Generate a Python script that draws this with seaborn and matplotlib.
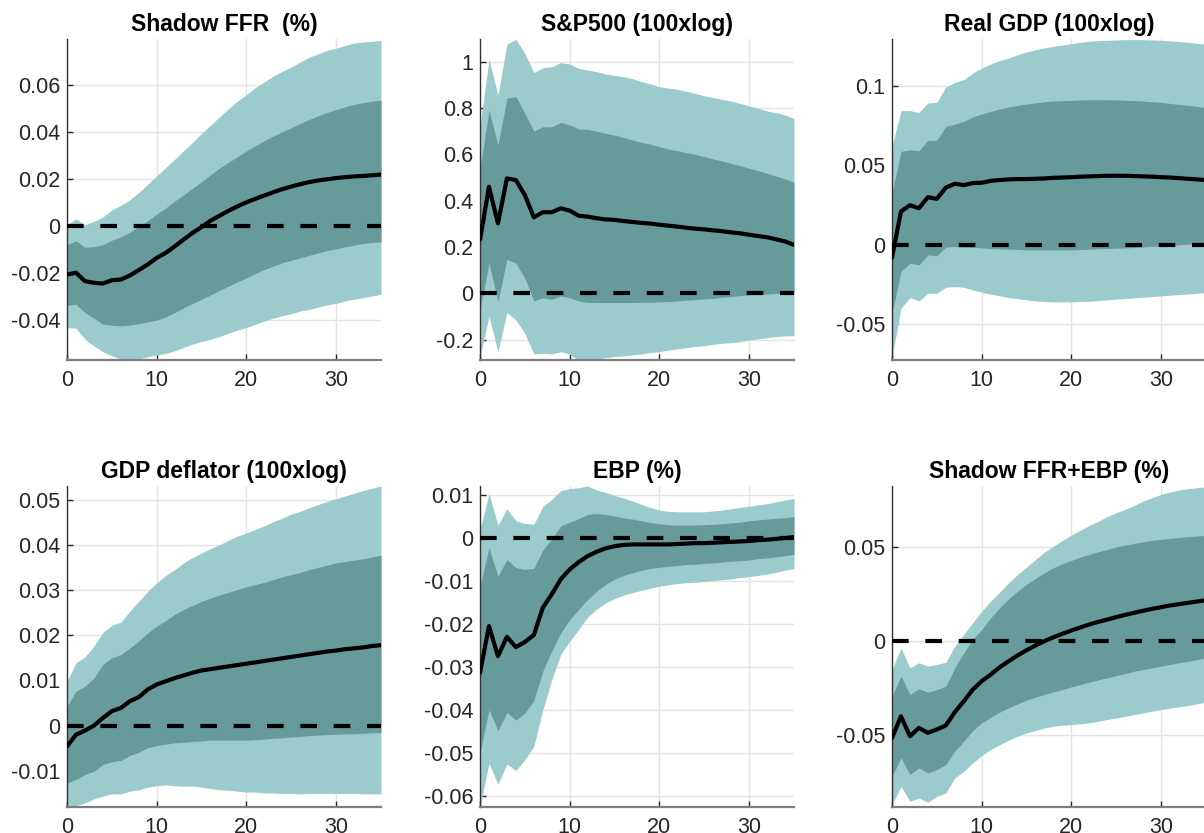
import numpy as np
import pandas as pd
import matplotlib
matplotlib.use("Agg")
import matplotlib.pyplot as plt
from matplotlib.ticker import FixedLocator, FuncFormatter
import seaborn as sns

# ---------------- data ----------------
horizon = list(range(36))

titles = ["Shadow FFR  (%)", "S&P500 (100xlog)", "Real GDP (100xlog)",
          "GDP deflator (100xlog)", "EBP (%)", "Shadow FFR+EBP (%)"]

# Shadow FFR
ffr_med = [-0.0205, -0.0197, -0.0233, -0.024, -0.0243, -0.0229, -0.0226, -0.0209, -0.0186, -0.0162,
           -0.0134, -0.0113, -0.0085, -0.0056, -0.0028, -0.0003, 0.0024, 0.0045, 0.0066, 0.0085,
           0.0102, 0.0117, 0.0131, 0.0145, 0.0158, 0.0169, 0.0179, 0.0188, 0.0195, 0.0200,
           0.0205, 0.0209, 0.0212, 0.0214, 0.0217, 0.0220]
ffr_hi68 = [-0.0078, -0.0062, -0.0089, -0.0087, -0.0078, -0.0059, -0.0045, -0.0025, 0.0, 0.0025,
            0.0052, 0.0078, 0.0107, 0.0134, 0.0162, 0.019, 0.0219, 0.0247, 0.0272, 0.0296,
            0.032, 0.0343, 0.0364, 0.0384, 0.0402, 0.0419, 0.0437, 0.0454, 0.047, 0.0484,
            0.0496, 0.0508, 0.0518, 0.0525, 0.0532, 0.0536]
ffr_lo68 = [-0.0336, -0.0331, -0.0367, -0.039, -0.0416, -0.042, -0.0423, -0.042, -0.0413, -0.0406,
            -0.0399, -0.0385, -0.0367, -0.0346, -0.0327, -0.031, -0.0292, -0.0272, -0.0254, -0.0236,
            -0.0219, -0.02, -0.0183, -0.0169, -0.0155, -0.0144, -0.0134, -0.0123, -0.0113, -0.0103,
            -0.0096, -0.0087, -0.008, -0.0073, -0.0069, -0.0066]
ffr_hi90 = [0.0007, 0.0032, 0.0007, 0.0021, 0.004, 0.007, 0.0089, 0.0113, 0.0144, 0.0179,
            0.0214, 0.025, 0.0285, 0.0322, 0.0357, 0.0395, 0.043, 0.0465, 0.05, 0.0532,
            0.056, 0.059, 0.0614, 0.0638, 0.0659, 0.0677, 0.0698, 0.0719, 0.0733, 0.0748,
            0.0757, 0.0769, 0.0779, 0.0783, 0.0786, 0.079]
ffr_lo90 = [-0.043, -0.0433, -0.048, -0.0508, -0.0533, -0.055, -0.0564, -0.0568, -0.0564, -0.0554,
            -0.0547, -0.054, -0.0529, -0.0515, -0.05, -0.049, -0.048, -0.0468, -0.0454, -0.0441,
            -0.043, -0.0416, -0.0402, -0.039, -0.038, -0.0371, -0.036, -0.0353, -0.0343, -0.0334,
            -0.0327, -0.0317, -0.031, -0.0303, -0.0296, -0.0289]

# S&P500
sp_med = [0.23, 0.46, 0.302, 0.496, 0.489, 0.424, 0.328, 0.35, 0.35, 0.367,
          0.357, 0.335, 0.331, 0.324, 0.319, 0.317, 0.312, 0.308, 0.304, 0.301,
          0.296, 0.292, 0.288, 0.283, 0.279, 0.276, 0.272, 0.268, 0.263, 0.259,
          0.253, 0.247, 0.242, 0.233, 0.224, 0.209]
sp_hi68 = [0.54, 0.791, 0.64, 0.842, 0.849, 0.777, 0.70, 0.719, 0.719, 0.738,
           0.727, 0.709, 0.708, 0.70, 0.691, 0.683, 0.673, 0.662, 0.652, 0.643,
           0.633, 0.623, 0.616, 0.607, 0.60, 0.59, 0.58, 0.571, 0.561, 0.551,
           0.54, 0.53, 0.518, 0.506, 0.494, 0.479]
sp_lo68 = [-0.072, 0.13, -0.036, 0.147, 0.13, 0.065, -0.033, -0.019, -0.026, -0.012,
           -0.019, -0.033, -0.039, -0.04, -0.04, -0.04, -0.04, -0.04, -0.039, -0.039,
           -0.037, -0.036, -0.033, -0.03, -0.027, -0.024, -0.022, -0.017, -0.014, -0.01,
           -0.007, -0.004, -0.003, -0.001, 0.0, 0.0]
sp_hi90 = [0.719, 1.01, 0.856, 1.076, 1.096, 1.036, 0.953, 0.974, 0.978, 0.996,
           0.99, 0.971, 0.964, 0.957, 0.947, 0.941, 0.935, 0.927, 0.914, 0.904,
           0.892, 0.886, 0.881, 0.872, 0.863, 0.853, 0.845, 0.837, 0.83, 0.82,
           0.809, 0.799, 0.787, 0.78, 0.77, 0.755]
sp_lo90 = [-0.273, -0.10, -0.252, -0.083, -0.115, -0.173, -0.262, -0.259, -0.262, -0.252,
           -0.263, -0.291, -0.288, -0.283, -0.278, -0.273, -0.271, -0.266, -0.262, -0.256,
           -0.252, -0.245, -0.24, -0.235, -0.23, -0.226, -0.22, -0.216, -0.213, -0.209,
           -0.201, -0.197, -0.191, -0.187, -0.184, -0.183]

# Real GDP
gdp_med = [-0.008, 0.021, 0.025, 0.023, 0.030, 0.029, 0.036, 0.0385, 0.0376, 0.0389,
           0.0391, 0.0403, 0.0408, 0.0412, 0.0414, 0.0414, 0.0416, 0.0418, 0.0422, 0.0424,
           0.0426, 0.0429, 0.0431, 0.0433, 0.0435, 0.0435, 0.0435, 0.0433, 0.0431, 0.0429,
           0.0426, 0.0424, 0.042, 0.0416, 0.0412, 0.0408]
gdp_hi68 = [0.0326, 0.0588, 0.0599, 0.0592, 0.0658, 0.0658, 0.0746, 0.076, 0.0777, 0.0805,
            0.0824, 0.084, 0.0855, 0.0868, 0.0878, 0.0887, 0.0893, 0.0901, 0.0905, 0.0908,
            0.091, 0.0912, 0.0914, 0.0914, 0.0914, 0.0912, 0.091, 0.0908, 0.0905, 0.0901,
            0.0897, 0.089, 0.0884, 0.0878, 0.0872, 0.0863]
gdp_lo68 = [-0.043, -0.0168, -0.0116, -0.0126, -0.0063, -0.0069, -0.0015, -0.001, -0.0015, -0.0015,
            -0.0019, -0.0023, -0.0025, -0.0027, -0.0029, -0.0032, -0.0032, -0.0032, -0.0032, -0.0032,
            -0.0032, -0.0029, -0.0027, -0.0025, -0.0023, -0.0021, -0.0019, -0.0017, -0.0013, -0.001,
            -0.0006, -0.0004, 0.0, 0.0004, 0.0008, 0.0013]
gdp_hi90 = [0.062, 0.0845, 0.0845, 0.0834, 0.0893, 0.0897, 0.0994, 0.1023, 0.104, 0.1082,
            0.1113, 0.1139, 0.116, 0.1176, 0.1197, 0.1214, 0.1229, 0.124, 0.125, 0.1258,
            0.1267, 0.1275, 0.1282, 0.1286, 0.1288, 0.129, 0.1292, 0.1292, 0.1292, 0.129,
            0.1288, 0.1284, 0.128, 0.1275, 0.1269, 0.1263]
gdp_lo90 = [-0.0704, -0.040, -0.0332, -0.0353, -0.0305, -0.0305, -0.0267, -0.0263, -0.0267, -0.0284,
            -0.0298, -0.0311, -0.0321, -0.0332, -0.034, -0.0347, -0.0353, -0.0357, -0.0359, -0.0359,
            -0.0359, -0.0357, -0.0355, -0.0351, -0.0347, -0.0342, -0.0338, -0.0334, -0.033, -0.0326,
            -0.0321, -0.0317, -0.0313, -0.0309, -0.0305, -0.030]

# GDP deflator
def_med = [-0.0046, -0.002, -0.0011, 0.0, 0.0017, 0.0032, 0.0039, 0.0054, 0.0063, 0.008,
           0.0091, 0.0098, 0.0105, 0.0111, 0.0117, 0.0122, 0.0125, 0.0128, 0.0131, 0.0134,
           0.0137, 0.014, 0.0143, 0.0146, 0.0149, 0.0152, 0.0155, 0.0158, 0.0161, 0.0164,
           0.0166, 0.0169, 0.0171, 0.0173, 0.0176, 0.0178]
def_hi68 = [0.0043, 0.0076, 0.0087, 0.0105, 0.0135, 0.015, 0.0157, 0.0172, 0.0187, 0.0205,
            0.022, 0.0232, 0.0246, 0.0257, 0.0266, 0.0275, 0.0282, 0.0289, 0.0295, 0.0301,
            0.0307, 0.0312, 0.0317, 0.0323, 0.0329, 0.0334, 0.0339, 0.0345, 0.035, 0.0355,
            0.036, 0.0363, 0.0366, 0.0369, 0.0373, 0.0377]
def_lo68 = [-0.0127, -0.0119, -0.0108, -0.0101, -0.0086, -0.008, -0.0077, -0.0066, -0.0059, -0.0049,
            -0.0044, -0.0041, -0.0038, -0.0037, -0.0035, -0.0034, -0.0032, -0.0032, -0.0032, -0.0032,
            -0.0032, -0.0031, -0.003, -0.0028, -0.0027, -0.0025, -0.0024, -0.0022, -0.0021, -0.002,
            -0.0019, -0.0018, -0.0018, -0.0017, -0.0016, -0.0015]
def_hi90 = [0.0098, 0.0139, 0.0152, 0.0176, 0.0206, 0.0222, 0.0229, 0.0253, 0.0275, 0.0297,
            0.0316, 0.0332, 0.0345, 0.036, 0.0372, 0.0382, 0.0392, 0.040, 0.041, 0.0419,
            0.0426, 0.0434, 0.0442, 0.0451, 0.0459, 0.0468, 0.0474, 0.0482, 0.0489, 0.0496,
            0.0502, 0.0508, 0.0514, 0.052, 0.0525, 0.053]
def_lo90 = [-0.0182, -0.0177, -0.0171, -0.0162, -0.0156, -0.0151, -0.0151, -0.0145, -0.0142, -0.0136,
            -0.0133, -0.0131, -0.0133, -0.0134, -0.0134, -0.0136, -0.0139, -0.0142, -0.0143, -0.0145,
            -0.0147, -0.0147, -0.0149, -0.0149, -0.015, -0.015, -0.0151, -0.015, -0.015, -0.015,
            -0.015, -0.015, -0.015, -0.0151, -0.0151, -0.0151]

# EBP
ebp_med = [-0.0314, -0.0205, -0.0275, -0.023, -0.0254, -0.0242, -0.0226, -0.0162, -0.0131, -0.0096,
           -0.0073, -0.0056, -0.0042, -0.0032, -0.0024, -0.0019, -0.0016, -0.0015, -0.0015, -0.0015,
           -0.0015, -0.0015, -0.0014, -0.0013, -0.0012, -0.0012, -0.0011, -0.001, -0.0009, -0.0008,
           -0.0007, -0.0005, -0.0004, -0.0002, 0.0, 0.0002]
ebp_hi68 = [-0.0112, -0.0023, -0.0089, -0.005, -0.0069, -0.0073, -0.0071, -0.0028, -0.0002, 0.0028,
            0.0037, 0.0045, 0.0055, 0.0057, 0.0055, 0.0051, 0.0047, 0.0044, 0.004, 0.0036,
            0.0033, 0.0031, 0.003, 0.003, 0.003, 0.0031, 0.0032, 0.0033, 0.0035, 0.0037,
            0.004, 0.0042, 0.0044, 0.0046, 0.0047, 0.005]
ebp_lo68 = [-0.050, -0.040, -0.0448, -0.0406, -0.0424, -0.0407, -0.0378, -0.031, -0.0263, -0.0221,
            -0.019, -0.0166, -0.0143, -0.0124, -0.0108, -0.0096, -0.0087, -0.0081, -0.0075, -0.0071,
            -0.0068, -0.0066, -0.0064, -0.0062, -0.0061, -0.0059, -0.0058, -0.0056, -0.0054, -0.0053,
            -0.0051, -0.0048, -0.0046, -0.0044, -0.0041, -0.0038]
ebp_hi90 = [0.002, 0.0103, 0.003, 0.0068, 0.004, 0.0034, 0.0032, 0.0073, 0.009, 0.011,
            0.0115, 0.0117, 0.0121, 0.0112, 0.0106, 0.0099, 0.0093, 0.0086, 0.0078, 0.0071,
            0.0065, 0.0062, 0.0061, 0.0061, 0.0061, 0.0061, 0.0063, 0.0065, 0.0068, 0.0071,
            0.0074, 0.0077, 0.008, 0.0084, 0.0088, 0.0092]
ebp_lo90 = [-0.0625, -0.0524, -0.0573, -0.0526, -0.0541, -0.0516, -0.0485, -0.040, -0.033, -0.0271,
            -0.024, -0.0213, -0.0184, -0.0166, -0.0151, -0.0141, -0.0133, -0.0127, -0.0122, -0.0117,
            -0.0112, -0.0109, -0.0106, -0.0104, -0.0103, -0.0101, -0.0099, -0.0097, -0.0095, -0.0092,
            -0.009, -0.0087, -0.0084, -0.008, -0.0075, -0.0071]

# Shadow FFR + EBP
sum_med = [-0.0515, -0.040, -0.0506, -0.0462, -0.0488, -0.047, -0.0449, -0.0378, -0.032, -0.0258,
           -0.0213, -0.0178, -0.0139, -0.0107, -0.0076, -0.0048, -0.0023, 0.0, 0.0021, 0.0039,
           0.0057, 0.0073, 0.0089, 0.0103, 0.0115, 0.0128, 0.014, 0.0151, 0.0162, 0.0172,
           0.0181, 0.019, 0.0197, 0.0204, 0.0211, 0.0218]
sum_hi68 = [-0.0293, -0.0187, -0.0284, -0.0254, -0.0272, -0.0258, -0.024, -0.0142, -0.0062, 0.0009,
            0.0062, 0.0124, 0.0178, 0.0226, 0.0266, 0.0302, 0.0334, 0.0364, 0.0391, 0.0412,
            0.043, 0.0448, 0.0462, 0.0476, 0.0488, 0.0501, 0.0512, 0.052, 0.0529, 0.0536,
            0.0542, 0.0547, 0.0552, 0.0556, 0.056, 0.0563]
sum_lo68 = [-0.0719, -0.0622, -0.071, -0.0675, -0.0702, -0.0684, -0.0657, -0.0586, -0.0533, -0.0476,
            -0.0435, -0.0405, -0.0378, -0.0355, -0.0334, -0.0314, -0.0298, -0.0284, -0.027, -0.0258,
            -0.0243, -0.0231, -0.0218, -0.0206, -0.0195, -0.0183, -0.0172, -0.016, -0.0151, -0.0142,
            -0.0133, -0.0124, -0.0115, -0.0107, -0.0098, -0.0089]
sum_hi90 = [-0.0151, -0.0036, -0.0142, -0.0115, -0.0133, -0.0124, -0.0112, -0.0027, 0.0036, 0.0098,
            0.016, 0.0213, 0.0261, 0.0311, 0.0355, 0.0394, 0.0435, 0.0474, 0.0506, 0.0536,
            0.0565, 0.0591, 0.0616, 0.0639, 0.0663, 0.0684, 0.0702, 0.0723, 0.0746, 0.0764,
            0.0782, 0.0794, 0.0805, 0.0812, 0.0817, 0.0822]
sum_lo90 = [-0.087, -0.0773, -0.0853, -0.0835, -0.0858, -0.0826, -0.0808, -0.0728, -0.0693, -0.0648,
            -0.0609, -0.0577, -0.0551, -0.0528, -0.0506, -0.0488, -0.0476, -0.0462, -0.0453, -0.0448,
            -0.0444, -0.044, -0.0435, -0.0426, -0.0417, -0.0409, -0.04, -0.0391, -0.0382, -0.0373,
            -0.0364, -0.0357, -0.035, -0.0343, -0.0334, -0.0325]

y_limits = [(-0.0568, 0.0796), (-0.288, 1.098), (-0.0725, 0.1296),
            (-0.018, 0.053), (-0.0626, 0.0121), (-0.0883, 0.0826)]
y_ticks = [[-0.04, -0.02, 0, 0.02, 0.04, 0.06],
           [-0.2, 0, 0.2, 0.4, 0.6, 0.8, 1],
           [-0.05, 0, 0.05, 0.1],
           [-0.01, 0, 0.01, 0.02, 0.03, 0.04, 0.05],
           [-0.06, -0.05, -0.04, -0.03, -0.02, -0.01, 0, 0.01],
           [-0.05, 0, 0.05]]
x_ticks = [0, 10, 20, 30]

panels = [
    (ffr_med, ffr_lo68, ffr_hi68, ffr_lo90, ffr_hi90),
    (sp_med, sp_lo68, sp_hi68, sp_lo90, sp_hi90),
    (gdp_med, gdp_lo68, gdp_hi68, gdp_lo90, gdp_hi90),
    (def_med, def_lo68, def_hi68, def_lo90, def_hi90),
    (ebp_med, ebp_lo68, ebp_hi68, ebp_lo90, ebp_hi90),
    (sum_med, sum_lo68, sum_hi68, sum_lo90, sum_hi90),
]

# ---------------- style ----------------
sns.set_theme(style="white")
plt.rcParams['font.family'] = ['Liberation Sans', 'DejaVu Sans']

LIGHT = "#9bcbcc"
DARK = "#679a9a"

W, H = 1204, 833
fig = plt.figure(figsize=(W / 100, H / 100), dpi=100)

col_left = [67, 480, 892]
ax_w = 314
rows = [(39, 360), (486, 807)]

def fmt(v, pos):
    return "%g" % v

for i, (title, data) in enumerate(zip(titles, panels)):
    r, c = divmod(i, 3)
    top, bot = rows[r]
    ax = fig.add_axes([col_left[c] / W, 1 - bot / H, ax_w / W, (bot - top) / H])
    med, lo68, hi68, lo90, hi90 = [np.asarray(a) for a in data]
    df = pd.DataFrame({"h": horizon, "med": med})

    ax.set_axisbelow(True)
    ax.grid(True, color="#e3e3e3", linewidth=1.0)
    ax.fill_between(horizon, lo90, hi90, color=LIGHT, linewidth=0, zorder=1)
    ax.fill_between(horizon, lo68, hi68, color=DARK, linewidth=0, zorder=2)
    ax.axhline(0, color="black", linewidth=3, dashes=(4, 4), zorder=3)
    sns.lineplot(data=df, x="h", y="med", ax=ax, color="black", linewidth=3, zorder=4)

    ax.set_xlim(0, 35)
    ax.set_ylim(*y_limits[i])
    ax.xaxis.set_major_locator(FixedLocator(x_ticks))
    ax.yaxis.set_major_locator(FixedLocator(y_ticks[i]))
    ax.yaxis.set_major_formatter(FuncFormatter(fmt))
    ax.xaxis.set_major_formatter(FuncFormatter(fmt))
    ax.set_xlabel("")
    ax.set_ylabel("")
    ax.set_title(title, fontsize=16.5, fontweight="bold", pad=6, color="black")

    for s in ("top", "right"):
        ax.spines[s].set_visible(False)
    ax.spines["left"].set_color("#333333")
    ax.spines["left"].set_linewidth(1.0)
    ax.spines["bottom"].set_color("#7f7f7f")
    ax.spines["bottom"].set_linewidth(1.6)
    ax.tick_params(axis="both", which="major", direction="in", length=4, width=1,
                   color="#262626", labelsize=15.5, labelcolor="#262626",
                   left=True, bottom=True)
    ax.tick_params(axis="x", pad=7)
    ax.tick_params(axis="y", pad=5)

fig.savefig("out.png", dpi=100)
